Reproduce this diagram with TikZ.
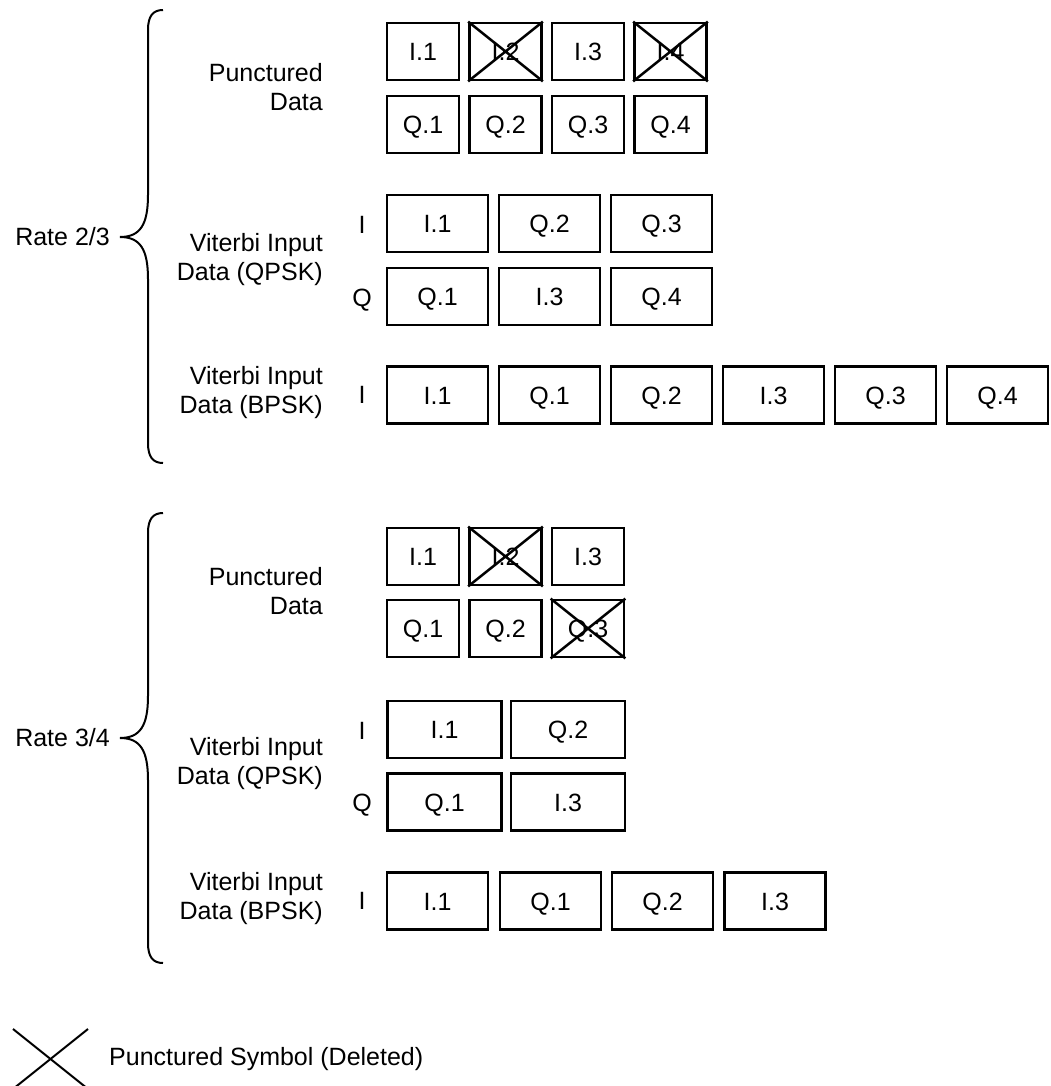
\documentclass[tikz,border=0pt]{standalone}
\usepackage{fontspec}
\setmainfont{Liberation Sans}
\usetikzlibrary{positioning}

\begin{document}
\begin{tikzpicture}[x=1pt, y=-1pt, font=\fontsize{25}{29}\selectfont,
  sym/.style={rectangle, draw=black, line width=2.7pt, minimum width=72pt, minimum height=57pt, inner sep=0pt, text height=18pt, text depth=0pt},
  symw/.style={sym, minimum width=101pt},
  symww/.style={sym, minimum width=114pt},
  lbl/.style={align=right, anchor=east, inner sep=0pt},
  iq/.style={inner sep=0pt, text height=18pt, text depth=0pt},
  brace/.style={line width=2pt},
  xline/.style={line width=2.5pt}
]
  \useasboundingbox (0,0) rectangle (1050,1086);

  % Rate 2/3
  \node[anchor=east, inner sep=0pt] (r23) at (110,237) {Rate 2/3};
  \draw[brace] (163,10) .. controls (153,10) and (148,16) .. (148,30) -- (148,195)
    .. controls (148,225) and (140,237) .. (r23.east -| 120,0)
    .. controls (140,237) and (148,249) .. (148,279) -- (148,443)
    .. controls (148,457) and (153,463) .. (163,463);

  \node[lbl] (pd23) at (323,87) {Punctured\\Data};
  \node[sym] (p23i1) at (423,51.5) {I.1};
  \node[sym] (p23i2) at (505.5,51.5) {I.2};
  \node[sym] (p23i3) at (588,51.5) {I.3};
  \node[sym] (p23i4) at (670.5,51.5) {I.4};
  \node[sym] (p23q1) at (423,124.5) {Q.1};
  \node[sym] (p23q2) at (505.5,124.5) {Q.2};
  \node[sym] (p23q3) at (588,124.5) {Q.3};
  \node[sym] (p23q4) at (670.5,124.5) {Q.4};
  \draw[xline] (p23i2.north west) -- (p23i2.south east) (p23i2.north east) -- (p23i2.south west);
  \draw[xline] (p23i4.north west) -- (p23i4.south east) (p23i4.north east) -- (p23i4.south west);

  \node[lbl] (qp23) at (323,260) {Viterbi Input\\Data (QPSK)};
  \node[iq] (qi23) at (362,224) {I};
  \node[iq] (qq23) at (362,297) {Q};
  \node[symw] (q23a) at (437.5,223.5) {I.1};
  \node[symw] (q23b) at (549.5,223.5) {Q.2};
  \node[symw] (q23c) at (661.5,223.5) {Q.3};
  \node[symw] (q23d) at (437.5,296.5) {Q.1};
  \node[symw] (q23e) at (549.5,296.5) {I.3};
  \node[symw] (q23f) at (661.5,296.5) {Q.4};

  \node[lbl] (bp23) at (323,393) {Viterbi Input\\Data (BPSK)};
  \node[iq] (bi23) at (362,394) {I};
  \node[symw] (b23a) at (437.5,395) {I.1};
  \node[symw] (b23b) at (549.5,395) {Q.1};
  \node[symw] (b23c) at (661.5,395) {Q.2};
  \node[symw] (b23d) at (773.5,395) {I.3};
  \node[symw] (b23e) at (885.5,395) {Q.3};
  \node[symw] (b23f) at (997.5,395) {Q.4};

  % Rate 3/4
  \node[anchor=east, inner sep=0pt] (r34) at (110,738) {Rate 3/4};
  \draw[brace] (163,513) .. controls (153,513) and (148,519) .. (148,533) -- (148,696)
    .. controls (148,726) and (140,738) .. (r34.east -| 120,0)
    .. controls (140,738) and (148,750) .. (148,780) -- (148,943)
    .. controls (148,957) and (153,963) .. (163,963);

  \node[lbl] (pd34) at (323,591) {Punctured\\Data};
  \node[sym] (p34i1) at (423,556.5) {I.1};
  \node[sym] (p34i2) at (505.5,556.5) {I.2};
  \node[sym] (p34i3) at (588,556.5) {I.3};
  \node[sym] (p34q1) at (423,628.5) {Q.1};
  \node[sym] (p34q2) at (505.5,628.5) {Q.2};
  \node[sym] (p34q3) at (588,628.5) {Q.3};
  \draw[xline] (p34i2.north west) -- (p34i2.south east) (p34i2.north east) -- (p34i2.south west);
  \draw[xline] (p34q3.north west) -- (p34q3.south east) (p34q3.north east) -- (p34q3.south west);

  \node[lbl] (qp34) at (323,764) {Viterbi Input\\Data (QPSK)};
  \node[iq] (qi34) at (362,730) {I};
  \node[iq] (qq34) at (362,802) {Q};
  \node[symww] (q34a) at (444.5,729.5) {I.1};
  \node[symww] (q34b) at (568,729.5) {Q.2};
  \node[symww] (q34c) at (444.5,802) {Q.1};
  \node[symww] (q34d) at (568,802) {I.3};

  \node[lbl] (bp34) at (323,899) {Viterbi Input\\Data (BPSK)};
  \node[iq] (bi34) at (362,900) {I};
  \node[symw] (b34a) at (437.5,901) {I.1};
  \node[symw] (b34b) at (550.5,901) {Q.1};
  \node[symw] (b34c) at (662.5,901) {Q.2};
  \node[symw] (b34d) at (775,901) {I.3};

  % legend
  \coordinate (xc) at (50.5,1059);
  \draw[line width=2pt] (13,1029) -- (xc) -- (88,1089) (88,1029) -- (xc) -- (13,1089);
  \node[anchor=west, inner sep=0pt] (leg) at (109,1059) {Punctured Symbol (Deleted)};
\end{tikzpicture}
\end{document}
